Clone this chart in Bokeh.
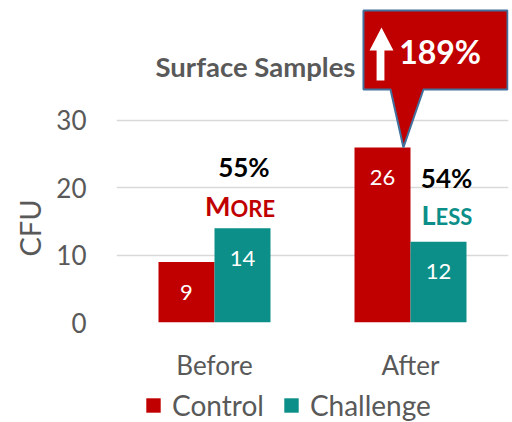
from bokeh.plotting import figure
from bokeh.models import Range1d, FixedTicker, Legend, LegendItem, Title
from bokeh.layouts import column
from bokeh.core.properties import value
from bokeh.embed import file_html
from bokeh.resources import INLINE

# ---- data ----
categories = ["Before", "After"]
series_names = ["Control", "Challenge"]
control = [9, 26]
challenge = [14, 12]
y_ticks = [0, 10, 20, 30]
pct_labels = ["55%", "54%"]
word_big = ["M", "L"]
word_small = ["ORE", "ESS"]
callout_text = "189%"
title_text = "Surface Samples"
y_label = "CFU"

# ---- style ----
RED = "#C00000"
TEAL = "#0C8F88"
GRAY = "#595959"
FONT = "Lato"

W, H1, H2 = 512, 384, 38
p = figure(width=W, height=H1, output_backend="svg", toolbar_location=None,
           x_range=Range1d(0, 2), y_range=Range1d(0, 47.82),
           min_border_left=116, min_border_right=4, min_border_top=0,
           min_border_bottom=H1 - 322)
p.outline_line_color = None
p.background_fill_color = "white"
p.border_fill_color = "white"

xs = [i + 0.5 for i in range(len(categories))]
bw = 0.2857
x_ctrl = [x - bw / 2 for x in xs]
x_chal = [x + bw / 2 for x in xs]

p.vbar(x=x_ctrl, top=control, width=bw, color=RED, line_color=None)
p.vbar(x=x_chal, top=challenge, width=bw, color=TEAL, line_color=None)

# value labels inside bars
p.text(x=x_ctrl + x_chal, y=[v - 4.5 for v in control + challenge],
       text=[str(v) for v in control + challenge],
       text_font=value(FONT), text_font_size="22px", text_color="white",
       text_align="center", text_baseline="middle")

# percent annotations
pct_x = [xs[0] + 0.15, xs[1] + 0.184]
pct_y = [23.02, 21.46]
p.text(x=pct_x, y=pct_y, text=pct_labels, text_font=value(FONT),
       text_font_size="26px", text_font_style="bold", text_color="black",
       text_align="center", text_baseline="middle")

split_x = [0.582, 1.628]
big_y = [17.37, 16.04]
small_y = [16.93, 15.67]
word_colors = [RED, TEAL]
p.text(x=split_x, y=big_y, text=word_big, text_font=value(FONT),
       text_font_size="27px", text_font_style="bold", text_color=word_colors,
       text_align="right", text_baseline="middle")
p.text(x=split_x, y=small_y, text=word_small, text_font=value(FONT),
       text_font_size="22px", text_font_style="bold", text_color=word_colors,
       text_align="left", text_baseline="middle")

# title
p.text(x=[0.709], y=[38.02], text=[title_text], text_font=value(FONT),
       text_font_size="27.5px", text_font_style="bold", text_color=GRAY,
       text_align="center", text_baseline="middle")

# callout
cx0, cx1, cy0, cy1 = 1.260, 1.995, 34.6, 46.34
px0, px1, apx = 1.398, 1.566, 1.464
apy = control[1]
p.patch(x=[cx0, cx1, cx1, px1, apx, px0, cx0],
        y=[cy1, cy1, cy0, cy0, apy, cy0, cy0],
        fill_color=RED, line_color="#41719C", line_width=2)
# arrow inside callout
p.patch(x=[1.352, 1.413, 1.367, 1.367, 1.327, 1.327, 1.291],
        y=[43.81, 40.40, 40.40, 35.94, 35.94, 40.40, 40.40],
        fill_color="white", line_color=None)
p.text(x=[1.651], y=[40.32], text=[callout_text], text_font=value(FONT),
       text_font_size="32px", text_font_style="bold", text_color="white",
       text_align="center", text_baseline="middle")

# grid
p.xgrid.visible = False
p.ygrid.ticker = FixedTicker(ticks=y_ticks)
p.ygrid.grid_line_color = "#D9D9D9"
p.ygrid.grid_line_width = 1.5

# axes
p.yaxis.ticker = FixedTicker(ticks=y_ticks)
p.xaxis.ticker = FixedTicker(ticks=xs)
p.xaxis.major_label_overrides = {x: c for x, c in zip(xs, categories)}
for ax in (p.xaxis, p.yaxis):
    ax.axis_line_color = None
    ax.major_tick_line_color = None
    ax.minor_tick_line_color = None
    ax.major_tick_out = 0
    ax.major_tick_in = 0
    ax.major_label_text_font = FONT
    ax.major_label_text_font_size = "26px"
    ax.major_label_text_color = GRAY
p.yaxis.major_label_standoff = 30
p.xaxis.major_label_standoff = 26

ylab = Title(text=y_label, align="left", offset=66, text_font=FONT,
             text_font_size="29px", text_font_style="normal",
             text_color=GRAY, standoff=14)
p.add_layout(ylab, "left")

# ---- legend strip ----
q = figure(width=W, height=H2, output_backend="svg", toolbar_location=None,
           x_range=Range1d(0, 2), y_range=Range1d(-2, -1),
           min_border_left=0, min_border_right=0, min_border_top=0,
           min_border_bottom=0, x_axis_location=None, y_axis_location=None)
q.outline_line_color = None
q.xgrid.visible = False
q.ygrid.visible = False
l1 = q.vbar(x=x_ctrl, top=control, width=0, color=RED, line_color=None)
l2 = q.vbar(x=x_chal, top=challenge, width=0, color=TEAL, line_color=None)
legend = Legend(items=[LegendItem(label=series_names[0], renderers=[l1]),
                       LegendItem(label=series_names[1], renderers=[l2])],
                orientation="horizontal", location=(28, 0), padding=0,
                margin=0, spacing=18, label_standoff=10, glyph_width=18,
                glyph_height=18, label_height=18, label_text_font=FONT,
                label_text_font_size="28px", label_text_color=GRAY,
                border_line_color=None, background_fill_alpha=0)
q.add_layout(legend, "center")

open("out.html", "w").write(file_html(column(p, q, spacing=0), INLINE))
